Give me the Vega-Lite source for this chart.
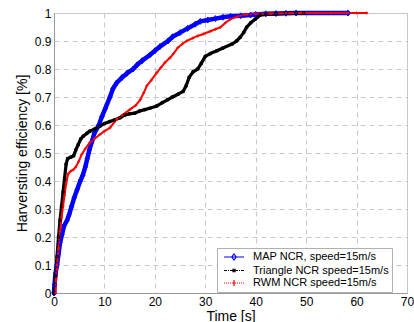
{
  "$schema": "https://vega.github.io/schema/vega-lite/v6.json",
  "autosize": "none",
  "width": 353,
  "height": 280,
  "padding": {"left": 54, "top": 13, "right": 7, "bottom": 29},
  "background": "white",
  "config": {
    "font": "Liberation Sans",
    "view": {"stroke": "#c8c8c8", "strokeWidth": 1},
    "axis": {
      "labelFont": "Liberation Sans",
      "titleFont": "Liberation Sans",
      "labelFontSize": 12,
      "titleFontSize": 14,
      "titleFontWeight": "normal",
      "labelColor": "#000000",
      "titleColor": "#000000",
      "ticks": false,
      "domainColor": "#999999",
      "gridColor": "#c8c8c8",
      "gridDash": [5, 4],
      "gridWidth": 1
    },
    "legend": {
      "labelFont": "Liberation Sans"
    }
  },
  "data": {
    "values": [
      {"series": "MAP NCR, speed=15m/s", "t": 0, "v": 0},
      {"series": "MAP NCR, speed=15m/s", "t": 0.1, "v": 0.03},
      {"series": "MAP NCR, speed=15m/s", "t": 0.3, "v": 0.07},
      {"series": "MAP NCR, speed=15m/s", "t": 0.6, "v": 0.1},
      {"series": "MAP NCR, speed=15m/s", "t": 0.9, "v": 0.14},
      {"series": "MAP NCR, speed=15m/s", "t": 1.2, "v": 0.18},
      {"series": "MAP NCR, speed=15m/s", "t": 1.6, "v": 0.21},
      {"series": "MAP NCR, speed=15m/s", "t": 2.0, "v": 0.24},
      {"series": "MAP NCR, speed=15m/s", "t": 2.6, "v": 0.26},
      {"series": "MAP NCR, speed=15m/s", "t": 3.0, "v": 0.28},
      {"series": "MAP NCR, speed=15m/s", "t": 3.5, "v": 0.31},
      {"series": "MAP NCR, speed=15m/s", "t": 4.0, "v": 0.34},
      {"series": "MAP NCR, speed=15m/s", "t": 4.6, "v": 0.37},
      {"series": "MAP NCR, speed=15m/s", "t": 5.2, "v": 0.4},
      {"series": "MAP NCR, speed=15m/s", "t": 5.7, "v": 0.42},
      {"series": "MAP NCR, speed=15m/s", "t": 6.2, "v": 0.45},
      {"series": "MAP NCR, speed=15m/s", "t": 6.6, "v": 0.48},
      {"series": "MAP NCR, speed=15m/s", "t": 7.0, "v": 0.51},
      {"series": "MAP NCR, speed=15m/s", "t": 7.5, "v": 0.54},
      {"series": "MAP NCR, speed=15m/s", "t": 8.0, "v": 0.57},
      {"series": "MAP NCR, speed=15m/s", "t": 8.9, "v": 0.6},
      {"series": "MAP NCR, speed=15m/s", "t": 9.5, "v": 0.63},
      {"series": "MAP NCR, speed=15m/s", "t": 10.2, "v": 0.66},
      {"series": "MAP NCR, speed=15m/s", "t": 11.1, "v": 0.7},
      {"series": "MAP NCR, speed=15m/s", "t": 11.7, "v": 0.73},
      {"series": "MAP NCR, speed=15m/s", "t": 12.4, "v": 0.75},
      {"series": "MAP NCR, speed=15m/s", "t": 13.5, "v": 0.77},
      {"series": "MAP NCR, speed=15m/s", "t": 14.5, "v": 0.785},
      {"series": "MAP NCR, speed=15m/s", "t": 15.7, "v": 0.8},
      {"series": "MAP NCR, speed=15m/s", "t": 16.5, "v": 0.815},
      {"series": "MAP NCR, speed=15m/s", "t": 17.5, "v": 0.83},
      {"series": "MAP NCR, speed=15m/s", "t": 19, "v": 0.85},
      {"series": "MAP NCR, speed=15m/s", "t": 20, "v": 0.865},
      {"series": "MAP NCR, speed=15m/s", "t": 21, "v": 0.88},
      {"series": "MAP NCR, speed=15m/s", "t": 22.6, "v": 0.9},
      {"series": "MAP NCR, speed=15m/s", "t": 23.5, "v": 0.915},
      {"series": "MAP NCR, speed=15m/s", "t": 25, "v": 0.93},
      {"series": "MAP NCR, speed=15m/s", "t": 26.5, "v": 0.945},
      {"series": "MAP NCR, speed=15m/s", "t": 28, "v": 0.96},
      {"series": "MAP NCR, speed=15m/s", "t": 29, "v": 0.97},
      {"series": "MAP NCR, speed=15m/s", "t": 30.5, "v": 0.975},
      {"series": "MAP NCR, speed=15m/s", "t": 32, "v": 0.98},
      {"series": "MAP NCR, speed=15m/s", "t": 33.5, "v": 0.985},
      {"series": "MAP NCR, speed=15m/s", "t": 35, "v": 0.988},
      {"series": "MAP NCR, speed=15m/s", "t": 37, "v": 0.99},
      {"series": "MAP NCR, speed=15m/s", "t": 39, "v": 0.993},
      {"series": "MAP NCR, speed=15m/s", "t": 40, "v": 0.995},
      {"series": "MAP NCR, speed=15m/s", "t": 42, "v": 0.997},
      {"series": "MAP NCR, speed=15m/s", "t": 44, "v": 0.998},
      {"series": "MAP NCR, speed=15m/s", "t": 46, "v": 0.999},
      {"series": "MAP NCR, speed=15m/s", "t": 48, "v": 1.0},
      {"series": "MAP NCR, speed=15m/s", "t": 58.3, "v": 1.0},

      {"series": "Triangle NCR speed=15m/s", "t": 0, "v": 0},
      {"series": "Triangle NCR speed=15m/s", "t": 0.3, "v": 0.06},
      {"series": "Triangle NCR speed=15m/s", "t": 0.6, "v": 0.13},
      {"series": "Triangle NCR speed=15m/s", "t": 0.9, "v": 0.2},
      {"series": "Triangle NCR speed=15m/s", "t": 1.2, "v": 0.26},
      {"series": "Triangle NCR speed=15m/s", "t": 1.5, "v": 0.31},
      {"series": "Triangle NCR speed=15m/s", "t": 1.8, "v": 0.36},
      {"series": "Triangle NCR speed=15m/s", "t": 2.1, "v": 0.41},
      {"series": "Triangle NCR speed=15m/s", "t": 2.4, "v": 0.46},
      {"series": "Triangle NCR speed=15m/s", "t": 2.7, "v": 0.48},
      {"series": "Triangle NCR speed=15m/s", "t": 3.3, "v": 0.485},
      {"series": "Triangle NCR speed=15m/s", "t": 3.9, "v": 0.49},
      {"series": "Triangle NCR speed=15m/s", "t": 4.3, "v": 0.51},
      {"series": "Triangle NCR speed=15m/s", "t": 4.8, "v": 0.53},
      {"series": "Triangle NCR speed=15m/s", "t": 5.3, "v": 0.55},
      {"series": "Triangle NCR speed=15m/s", "t": 5.8, "v": 0.56},
      {"series": "Triangle NCR speed=15m/s", "t": 6.5, "v": 0.57},
      {"series": "Triangle NCR speed=15m/s", "t": 7.1, "v": 0.578},
      {"series": "Triangle NCR speed=15m/s", "t": 8, "v": 0.585},
      {"series": "Triangle NCR speed=15m/s", "t": 9.1, "v": 0.596},
      {"series": "Triangle NCR speed=15m/s", "t": 10, "v": 0.605},
      {"series": "Triangle NCR speed=15m/s", "t": 11, "v": 0.612},
      {"series": "Triangle NCR speed=15m/s", "t": 12, "v": 0.618},
      {"series": "Triangle NCR speed=15m/s", "t": 13.1, "v": 0.626},
      {"series": "Triangle NCR speed=15m/s", "t": 14, "v": 0.635},
      {"series": "Triangle NCR speed=15m/s", "t": 15, "v": 0.64},
      {"series": "Triangle NCR speed=15m/s", "t": 16, "v": 0.642},
      {"series": "Triangle NCR speed=15m/s", "t": 17, "v": 0.65},
      {"series": "Triangle NCR speed=15m/s", "t": 18, "v": 0.655},
      {"series": "Triangle NCR speed=15m/s", "t": 19, "v": 0.66},
      {"series": "Triangle NCR speed=15m/s", "t": 20.4, "v": 0.668},
      {"series": "Triangle NCR speed=15m/s", "t": 21.5, "v": 0.68},
      {"series": "Triangle NCR speed=15m/s", "t": 22.5, "v": 0.69},
      {"series": "Triangle NCR speed=15m/s", "t": 23.5, "v": 0.7},
      {"series": "Triangle NCR speed=15m/s", "t": 24.6, "v": 0.71},
      {"series": "Triangle NCR speed=15m/s", "t": 25.6, "v": 0.72},
      {"series": "Triangle NCR speed=15m/s", "t": 26.2, "v": 0.74},
      {"series": "Triangle NCR speed=15m/s", "t": 26.8, "v": 0.77},
      {"series": "Triangle NCR speed=15m/s", "t": 27.6, "v": 0.79},
      {"series": "Triangle NCR speed=15m/s", "t": 28.5, "v": 0.8},
      {"series": "Triangle NCR speed=15m/s", "t": 29.2, "v": 0.82},
      {"series": "Triangle NCR speed=15m/s", "t": 30, "v": 0.845},
      {"series": "Triangle NCR speed=15m/s", "t": 31, "v": 0.855},
      {"series": "Triangle NCR speed=15m/s", "t": 32.3, "v": 0.865},
      {"series": "Triangle NCR speed=15m/s", "t": 33.5, "v": 0.875},
      {"series": "Triangle NCR speed=15m/s", "t": 35.3, "v": 0.889},
      {"series": "Triangle NCR speed=15m/s", "t": 36.2, "v": 0.9},
      {"series": "Triangle NCR speed=15m/s", "t": 36.9, "v": 0.913},
      {"series": "Triangle NCR speed=15m/s", "t": 37.6, "v": 0.93},
      {"series": "Triangle NCR speed=15m/s", "t": 38.2, "v": 0.949},
      {"series": "Triangle NCR speed=15m/s", "t": 39, "v": 0.965},
      {"series": "Triangle NCR speed=15m/s", "t": 39.9, "v": 0.978},
      {"series": "Triangle NCR speed=15m/s", "t": 40.9, "v": 0.993},
      {"series": "Triangle NCR speed=15m/s", "t": 42, "v": 0.995},
      {"series": "Triangle NCR speed=15m/s", "t": 44, "v": 0.997},
      {"series": "Triangle NCR speed=15m/s", "t": 46, "v": 0.999},
      {"series": "Triangle NCR speed=15m/s", "t": 48, "v": 1.0},
      {"series": "Triangle NCR speed=15m/s", "t": 49.5, "v": 1.0},

      {"series": "RWM NCR speed=15m/s", "t": 0.3, "v": 0},
      {"series": "RWM NCR speed=15m/s", "t": 0.4, "v": 0.05},
      {"series": "RWM NCR speed=15m/s", "t": 0.6, "v": 0.1},
      {"series": "RWM NCR speed=15m/s", "t": 0.9, "v": 0.16},
      {"series": "RWM NCR speed=15m/s", "t": 1.2, "v": 0.22},
      {"series": "RWM NCR speed=15m/s", "t": 1.5, "v": 0.27},
      {"series": "RWM NCR speed=15m/s", "t": 1.8, "v": 0.31},
      {"series": "RWM NCR speed=15m/s", "t": 2.1, "v": 0.35},
      {"series": "RWM NCR speed=15m/s", "t": 2.4, "v": 0.39},
      {"series": "RWM NCR speed=15m/s", "t": 2.8, "v": 0.425},
      {"series": "RWM NCR speed=15m/s", "t": 3.3, "v": 0.435},
      {"series": "RWM NCR speed=15m/s", "t": 3.8, "v": 0.44},
      {"series": "RWM NCR speed=15m/s", "t": 4.3, "v": 0.45},
      {"series": "RWM NCR speed=15m/s", "t": 4.9, "v": 0.47},
      {"series": "RWM NCR speed=15m/s", "t": 5.5, "v": 0.495},
      {"series": "RWM NCR speed=15m/s", "t": 6.2, "v": 0.515},
      {"series": "RWM NCR speed=15m/s", "t": 7.1, "v": 0.537},
      {"series": "RWM NCR speed=15m/s", "t": 8, "v": 0.55},
      {"series": "RWM NCR speed=15m/s", "t": 9.1, "v": 0.566},
      {"series": "RWM NCR speed=15m/s", "t": 10, "v": 0.578},
      {"series": "RWM NCR speed=15m/s", "t": 11.1, "v": 0.59},
      {"series": "RWM NCR speed=15m/s", "t": 12.4, "v": 0.62},
      {"series": "RWM NCR speed=15m/s", "t": 13.5, "v": 0.635},
      {"series": "RWM NCR speed=15m/s", "t": 15.1, "v": 0.656},
      {"series": "RWM NCR speed=15m/s", "t": 16.2, "v": 0.67},
      {"series": "RWM NCR speed=15m/s", "t": 17.1, "v": 0.69},
      {"series": "RWM NCR speed=15m/s", "t": 17.8, "v": 0.715},
      {"series": "RWM NCR speed=15m/s", "t": 18.4, "v": 0.74},
      {"series": "RWM NCR speed=15m/s", "t": 19.3, "v": 0.76},
      {"series": "RWM NCR speed=15m/s", "t": 20.4, "v": 0.787},
      {"series": "RWM NCR speed=15m/s", "t": 21.2, "v": 0.805},
      {"series": "RWM NCR speed=15m/s", "t": 22, "v": 0.823},
      {"series": "RWM NCR speed=15m/s", "t": 23, "v": 0.84},
      {"series": "RWM NCR speed=15m/s", "t": 23.7, "v": 0.855},
      {"series": "RWM NCR speed=15m/s", "t": 24.6, "v": 0.877},
      {"series": "RWM NCR speed=15m/s", "t": 25.5, "v": 0.89},
      {"series": "RWM NCR speed=15m/s", "t": 26.3, "v": 0.9},
      {"series": "RWM NCR speed=15m/s", "t": 27.5, "v": 0.91},
      {"series": "RWM NCR speed=15m/s", "t": 28.5, "v": 0.918},
      {"series": "RWM NCR speed=15m/s", "t": 29.6, "v": 0.925},
      {"series": "RWM NCR speed=15m/s", "t": 31, "v": 0.935},
      {"series": "RWM NCR speed=15m/s", "t": 32, "v": 0.942},
      {"series": "RWM NCR speed=15m/s", "t": 33, "v": 0.949},
      {"series": "RWM NCR speed=15m/s", "t": 34, "v": 0.965},
      {"series": "RWM NCR speed=15m/s", "t": 35, "v": 0.978},
      {"series": "RWM NCR speed=15m/s", "t": 36.5, "v": 0.988},
      {"series": "RWM NCR speed=15m/s", "t": 38.2, "v": 0.995},
      {"series": "RWM NCR speed=15m/s", "t": 40, "v": 0.997},
      {"series": "RWM NCR speed=15m/s", "t": 43, "v": 0.998},
      {"series": "RWM NCR speed=15m/s", "t": 46, "v": 0.999},
      {"series": "RWM NCR speed=15m/s", "t": 49, "v": 1.0},
      {"series": "RWM NCR speed=15m/s", "t": 52, "v": 1.0},
      {"series": "RWM NCR speed=15m/s", "t": 55, "v": 1.0},
      {"series": "RWM NCR speed=15m/s", "t": 58, "v": 1.0},
      {"series": "RWM NCR speed=15m/s", "t": 60, "v": 1.0},
      {"series": "RWM NCR speed=15m/s", "t": 62, "v": 1.0}
    ]
  },
  "encoding": {
    "x": {
      "field": "t", "type": "quantitative",
      "scale": {"domain": [0, 70], "nice": false},
      "axis": {"values": [0, 10, 20, 30, 40, 50, 60, 70], "title": "Time [s]", "labelPadding": 3, "titlePadding": 2, "labelFlush": false}
    },
    "y": {
      "field": "v", "type": "quantitative",
      "scale": {"domain": [0, 1], "nice": false},
      "axis": {"values": [0, 0.1, 0.2, 0.3, 0.4, 0.5, 0.6, 0.7, 0.8, 0.9, 1], "format": "~g", "title": "Harversting efficiency [%]", "labelPadding": 3, "titlePadding": 5, "labelFlush": false}
    }
  },
  "layer": [
    {
      "mark": {"type": "line", "strokeJoin": "round", "strokeCap": "round"},
      "encoding": {
        "color": {
          "field": "series", "type": "nominal",
          "scale": {"domain": ["MAP NCR, speed=15m/s", "Triangle NCR speed=15m/s", "RWM NCR speed=15m/s"], "range": ["#0000ff", "#000000", "#ff0000"]},
          "legend": null
        },
        "strokeWidth": {
          "field": "series", "type": "nominal",
          "scale": {"domain": ["MAP NCR, speed=15m/s", "Triangle NCR speed=15m/s", "RWM NCR speed=15m/s"], "range": [4.5, 2, 4]},
          "legend": null
        }
      }
    },
    {
      "mark": {"type": "point", "filled": false, "strokeWidth": 1, "opacity": 1},
      "encoding": {
        "color": {"field": "series", "type": "nominal", "legend": null},
        "shape": {
          "field": "series", "type": "nominal",
          "scale": {"domain": ["MAP NCR, speed=15m/s", "Triangle NCR speed=15m/s", "RWM NCR speed=15m/s"], "range": ["M0,-1L0.7,0L0,1L-0.7,0Z", "M-0.5,-0.5H0.5V0.5H-0.5Z", "M-1,0H1M0,-1V1"]},
          "legend": null
        },
        "size": {
          "field": "series", "type": "nominal",
          "scale": {"domain": ["MAP NCR, speed=15m/s", "Triangle NCR speed=15m/s", "RWM NCR speed=15m/s"], "range": [36, 9, 42]},
          "legend": null
        }
      }
    },
    {
      "transform": [{"filter": "datum.t > 1000"}],
      "mark": {"type": "point", "filled": false, "strokeWidth": 1, "opacity": 1, "size": 100},
      "encoding": {
        "color": {
          "field": "series", "type": "nominal",
          "legend": {
            "title": null,
            "orient": "none",
            "legendX": 163,
            "legendY": 235,
            "padding": 3,
            "rowPadding": 1.5,
            "labelOffset": 21,
            "labelFontSize": 11,
            "labelColor": "#000000",
            "symbolSize": 100,
            "symbolStrokeWidth": 1.2,
            "symbolOpacity": 1,
            "strokeColor": "#b0b0b0",
            "fillColor": "#ffffff",
            "cornerRadius": 0
          }
        },
        "shape": {
          "field": "series", "type": "nominal",
          "scale": {"domain": ["MAP NCR, speed=15m/s", "Triangle NCR speed=15m/s", "RWM NCR speed=15m/s"], "range": [
            "M-0.4,0H3.6M1.6,-0.6L2.05,0L1.6,0.6L1.15,0Z",
            "M-0.4,0H0.2M0.4,0H0.6M0.8,0H1.4M1.2,0H2M1.8,0H2.4M2.6,0H2.8M3,0H3.6M1.4,-0.25H1.8V0.25H1.4Z",
            "M-0.4,0H-0.2M0,0H0.2M0.4,0H0.6M0.8,0H1M1.2,0H2M2.2,0H2.4M2.6,0H2.8M3,0H3.2M3.4,0H3.6M1.6,-0.6V0.6"
          ]},
          "legend": {
            "title": null,
            "orient": "none",
            "legendX": 163,
            "legendY": 235,
            "padding": 3,
            "rowPadding": 1.5,
            "labelOffset": 21,
            "labelFontSize": 11,
            "labelColor": "#000000",
            "symbolSize": 100,
            "symbolStrokeWidth": 1.2,
            "symbolOpacity": 1,
            "strokeColor": "#b0b0b0",
            "fillColor": "#ffffff",
            "cornerRadius": 0
          }
        }
      }
    }
  ],
  "resolve": {"scale": {"shape": "independent"}, "legend": {"color": "independent", "shape": "independent"}}
}
